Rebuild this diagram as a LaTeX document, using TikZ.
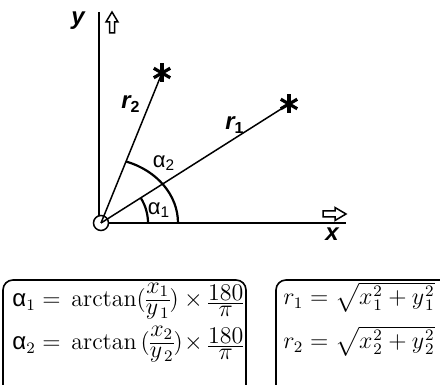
\documentclass[tikz,border=0pt]{standalone}
\usepackage{amsmath}
\usepackage{fontspec}
\setsansfont{Liberation Sans}
\newcommand{\myfrac}[3][1.3pt]{\mathord{\vcenter{\offinterlineskip\halign{\hfil$##$\hfil\cr #2\cr\noalign{\kern#1\hrule height0.45pt\kern#1}#3\cr}}}}
\newcommand{\salpha}{\mbox{\sffamily α}}
\begin{document}
\begin{tikzpicture}[x=0.5pt,y=0.5pt,
  ax/.style={line width=0.75pt},
  arcline/.style={line width=1.1pt},
  lbl/.style={font=\sffamily\bfseries\itshape\fontsize{12}{14}\selectfont, inner sep=0},
  alab/.style={font=\sffamily\fontsize{11}{13}\selectfont, inner sep=0},
  hollow/.style={draw, line width=0.75pt, fill=white, line join=miter},
  eqbox/.style={draw, line width=0.8pt, rounded corners=5pt},
  eq/.style={anchor=base west, inner sep=0, font=\fontsize{12}{14}\selectfont},
  starpic/.pic={\foreach \a in {90,30,150} \draw[line width=1.6pt] (\a:9.5) -- (\a+180:9.5);}]
\useasboundingbox (0,0) rectangle (440,385);
\clip (0,0) rectangle (440,385);

% origin and axes
\node[circle, draw, line width=0.75pt, minimum size=7.5pt, inner sep=0] (O) at (101,162) {};
\coordinate (ytop) at (99,373);
\coordinate (ybot) at (99,169);
\coordinate (xend) at (346,162);
\draw[ax] (ytop) -- (ybot);
\draw[ax] (O.east) -- (xend);

% hollow axis arrows
\draw[hollow] (109.5,352) -- (109.5,363) -- (106,363) -- (112,373) -- (118,363) -- (114.5,363) -- (114.5,352) -- cycle;
\draw[hollow] (323,168) -- (335,168) -- (335,164.5) -- (346,171) -- (335,177.5) -- (335,174) -- (323,174) -- cycle;

% axis labels
\node[lbl] (ylab) at (78,364) {y};
\node[lbl] (xlab) at (332,151) {x};

% stars and radius lines
\coordinate (s1) at (289,281);
\coordinate (s2) at (162,312);
\draw[ax] (O.center) -- (s1);
\draw[ax] (O.center) -- (s2);
\pic at (s1) {starpic};
\pic at (s2) {starpic};

\node[lbl] (r1lab) at (235,260) {r\textsubscript{\upshape 1}};
\node[lbl] (r2lab) at (131,281) {r\textsubscript{\upshape 2}};

% angle arcs
\coordinate (a2s) at (178,162);
\coordinate (a1s) at (148,162);
\draw[arcline] (a2s) arc[start angle=0, end angle=71, x radius=77, y radius=65];
\draw[arcline] (a1s) arc[start angle=0, end angle=32.1, radius=47];
\node[alab] (al2) at (164,222) {α\textsubscript{2}};
\node[alab] (al1) at (159,175) {α\textsubscript{1}};

% formula boxes
\draw[eqbox] (3,-20) rectangle (246,105);
\draw[eqbox] (276,-20) rectangle (460,105);
\node[eq] (e1) at (12,78) {$\makebox[27.5pt][l]{$\salpha_1 =$}\arctan(\myfrac[1.6pt]{x_1}{y_{\,1}}) \times \myfrac{180}{\pi}$};
\node[eq] (e2) at (12,35) {$\makebox[27.5pt][l]{$\salpha_2 =$}\arctan\,(\myfrac[1.6pt]{x_2}{y_{\,2}})\! \times \myfrac{180}{\pi}$};
\node[eq] (e3) at (283,80) {$r_1 = \sqrt{x\hspace{0.5pt}{}^2_1 + y\hspace{0.5pt}{}^2_1}$};
\node[eq] (e4) at (283,36) {$r_2 = \sqrt{x\hspace{0.5pt}{}^2_2 + y\hspace{0.5pt}{}^2_2}$};
\end{tikzpicture}
\end{document}
